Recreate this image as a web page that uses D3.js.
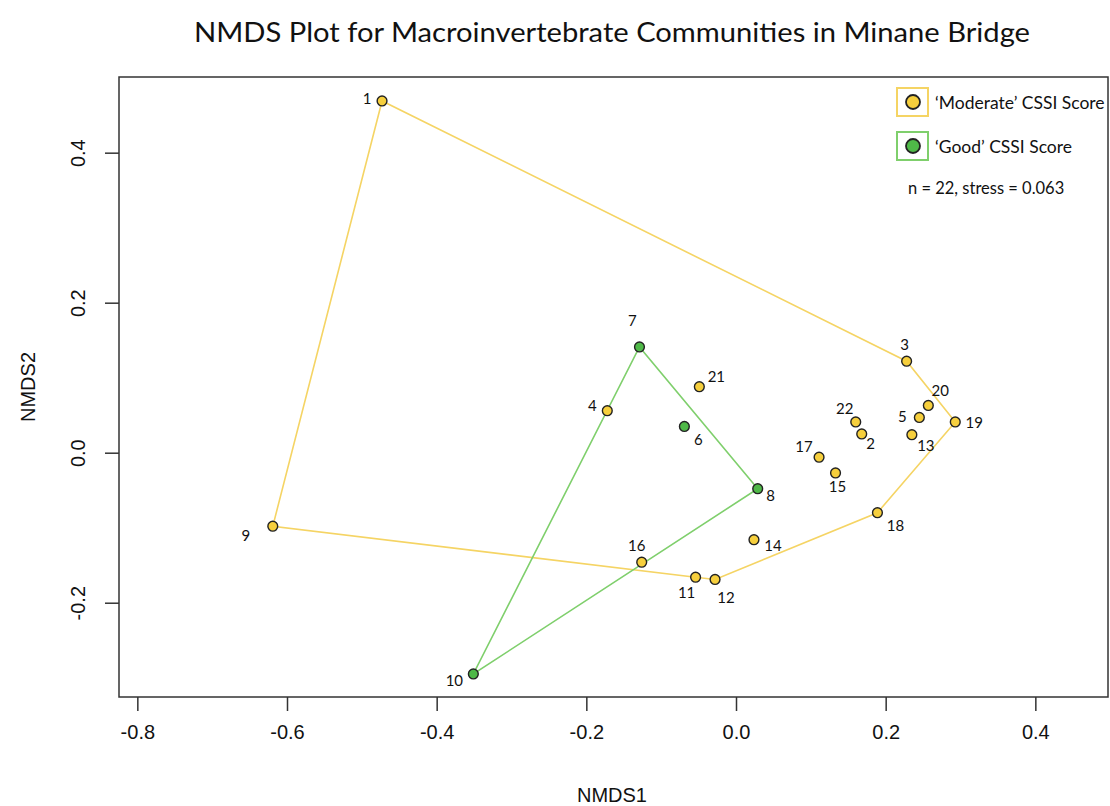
<!DOCTYPE html>
<html>
<head>
<meta charset="utf-8">
<script src="https://cdn.jsdelivr.net/npm/d3@7/dist/d3.min.js"></script>
<style>
  html, body { margin: 0; padding: 0; background: #fff; }
  svg { display: block; }
</style>
</head>
<body>
<svg id="chart" width="1110" height="806"></svg>
<script>
// NMDS site scores (Minane Bridge macroinvertebrate samples)
const sites  = [1, 2, 3, 4, 5, 6, 7, 8, 9, 10, 11, 12, 13, 14, 15, 16, 17, 18, 19, 20, 21, 22];
const nmds1  = [-0.473, 0.168, 0.228, -0.172, 0.245, -0.069, -0.129, 0.029, -0.619, -0.351, -0.054,
                -0.028, 0.235, 0.024, 0.133, -0.126, 0.111, 0.189, 0.293, 0.257, -0.049, 0.160];
const nmds2  = [0.469, 0.025, 0.122, 0.056, 0.047, 0.035, 0.141, -0.048, -0.098, -0.295, -0.166,
                -0.169, 0.024, -0.116, -0.027, -0.146, -0.006, -0.080, 0.041, 0.063, 0.088, 0.041];
const cssi   = ["Moderate", "Moderate", "Moderate", "Moderate", "Moderate", "Good", "Good", "Good",
                "Moderate", "Good", "Moderate", "Moderate", "Moderate", "Moderate", "Moderate", "Moderate",
                "Moderate", "Moderate", "Moderate", "Moderate", "Moderate", "Moderate"];
const groups = ["Moderate", "Good"];
const legendLabels = ["\u2018Moderate\u2019 CSSI Score", "\u2018Good\u2019 CSSI Score"];
const xTicks = [-0.8, -0.6, -0.4, -0.2, 0.0, 0.2, 0.4];
const yTicks = [-0.2, 0.0, 0.2, 0.4];
const nSites = 22, stress = 0.063;

// label placement around each point (pixels, dx/dy)
const labelOffset = {
  1: [-15, -3], 2: [9, 9], 3: [-2, -17], 4: [-15, -6], 5: [-17, -1], 6: [14, 13],
  7: [-7, -27], 8: [13, 6], 9: [-27, 9], 10: [-19, 6], 11: [-9, 15], 12: [11, 18],
  13: [14, 10], 14: [19, 5], 15: [2, 13], 16: [-5, -17], 17: [-15, -11], 18: [18, 12],
  19: [19, 0], 20: [12, -15], 21: [17, -11], 22: [-11, -14]
};

const fillColor = { Moderate: "#f6cf3d", Good: "#4fb948" };
const hullColor = { Moderate: "#f5d464", Good: "#7fcf6c" };

const svg = d3.select("#chart");
const box = { left: 119, right: 1108, top: 77, bottom: 697 };

const x = d3.scaleLinear().domain([-0.8245, 0.4971]).range([box.left, box.right]);
const y = d3.scaleLinear().domain([-0.3257, 0.5009]).range([box.bottom, box.top]);

const data = sites.map((s, i) => ({ site: s, x: nmds1[i], y: nmds2[i], g: cssi[i] }));
const fmt = d => d3.format(".1f")(d).replace("\u2212", "-");

// title
svg.append("text")
  .attr("x", 612).attr("y", 42)
  .attr("text-anchor", "middle")
  .attr("font-family", "Lato, 'Open Sans', sans-serif")
  .attr("font-size", 27)
  .attr("textLength", 836).attr("lengthAdjust", "spacingAndGlyphs")
  .attr("fill", "#111")
  .text("NMDS Plot for Macroinvertebrate Communities in Minane Bridge");

// axes
const axisFont = "'Liberation Sans', Arial, sans-serif";
const xAxis = svg.append("g")
  .attr("transform", `translate(0,${box.bottom})`)
  .call(d3.axisBottom(x).tickValues(xTicks).tickSize(14).tickPadding(14).tickFormat(fmt));
xAxis.select(".domain").remove();
xAxis.selectAll("line").attr("stroke", "#333").attr("stroke-width", 1.5);
xAxis.selectAll("text").attr("font-family", axisFont).attr("font-size", 20).attr("fill", "#111");

const yAxis = svg.append("g")
  .attr("transform", `translate(${box.left},0)`)
  .call(d3.axisLeft(y).tickValues(yTicks).tickSize(14).tickPadding(0).tickFormat(fmt));
yAxis.select(".domain").remove();
yAxis.selectAll("line").attr("stroke", "#333").attr("stroke-width", 1.5);
yAxis.selectAll(".tick text")
  .attr("font-family", axisFont).attr("font-size", 20).attr("fill", "#111")
  .attr("x", null).attr("dy", null)
  .attr("text-anchor", "middle")
  .attr("dominant-baseline", "central")
  .attr("transform", "translate(-41,0) rotate(-90)");

svg.append("text")
  .attr("x", 612).attr("y", 802)
  .attr("text-anchor", "middle")
  .attr("font-family", axisFont).attr("font-size", 20).attr("fill", "#111")
  .text("NMDS1");
svg.append("text")
  .attr("transform", "translate(35,387) rotate(-90)")
  .attr("text-anchor", "middle")
  .attr("font-family", axisFont).attr("font-size", 20).attr("fill", "#111")
  .text("NMDS2");

// hull outlines per CSSI group
groups.forEach(g => {
  const pts = data.filter(d => d.g === g).map(d => [x(d.x), y(d.y)]);
  const hull = d3.polygonHull(pts);
  svg.append("path")
    .attr("d", "M" + hull.join("L") + "Z")
    .attr("fill", "none")
    .attr("stroke", hullColor[g])
    .attr("stroke-width", 1.6);
});

// points
svg.append("g").selectAll("circle")
  .data(data).join("circle")
  .attr("cx", d => x(d.x)).attr("cy", d => y(d.y))
  .attr("r", 4.9)
  .attr("fill", d => fillColor[d.g])
  .attr("stroke", "#222").attr("stroke-width", 1.4);

// site labels
svg.append("g").selectAll("text")
  .data(data).join("text")
  .attr("x", d => x(d.x) + labelOffset[d.site][0])
  .attr("y", d => y(d.y) + labelOffset[d.site][1])
  .attr("text-anchor", "middle")
  .attr("dominant-baseline", "central")
  .attr("font-family", "Lato, 'Open Sans', sans-serif")
  .attr("font-size", 15)
  .attr("fill", "#111")
  .text(d => d.site);

// plot frame
svg.append("rect")
  .attr("x", box.left).attr("y", box.top)
  .attr("width", box.right - box.left).attr("height", box.bottom - box.top)
  .attr("fill", "none").attr("stroke", "#333").attr("stroke-width", 1.5);

// legend
const legend = svg.append("g");
groups.forEach((g, i) => {
  const cy = 102 + i * 44;
  legend.append("rect")
    .attr("x", 897).attr("y", cy - 14)
    .attr("width", 31).attr("height", 28)
    .attr("fill", "#fff").attr("stroke", hullColor[g]).attr("stroke-width", 2);
  legend.append("circle")
    .attr("cx", 913).attr("cy", cy).attr("r", 7)
    .attr("fill", fillColor[g]).attr("stroke", "#222").attr("stroke-width", 1.8);
  legend.append("text")
    .attr("x", 935).attr("y", cy)
    .attr("dominant-baseline", "central")
    .attr("font-family", "Lato, 'Open Sans', sans-serif")
    .attr("font-size", 17.5).attr("fill", "#111")
    .text(legendLabels[i]);
});
legend.append("text")
  .attr("x", 908).attr("y", 188)
  .attr("dominant-baseline", "central")
  .attr("font-family", "Lato, 'Open Sans', sans-serif")
  .attr("font-size", 16.5).attr("fill", "#111")
  .text(`n = ${nSites}, stress = ${stress.toFixed(3)}`);
</script>
</body>
</html>
